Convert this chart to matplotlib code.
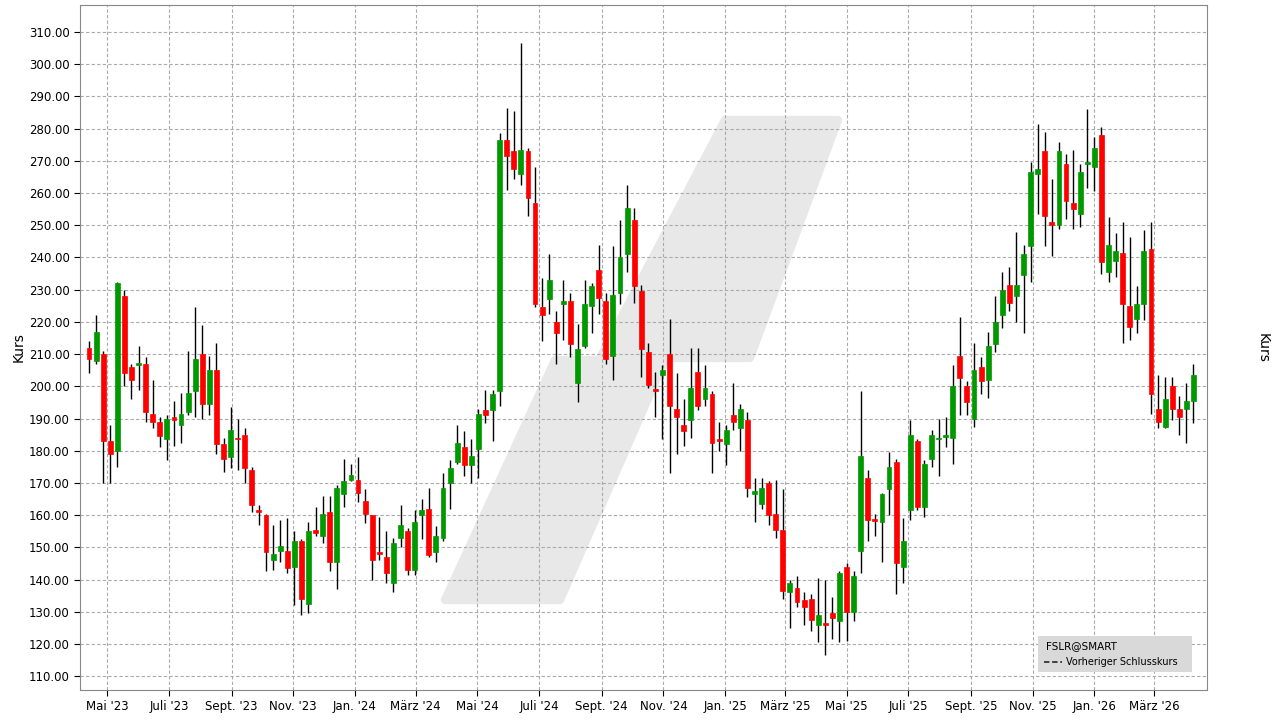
import datetime as dt
import matplotlib
matplotlib.use("Agg")
import matplotlib.pyplot as plt
import matplotlib.dates as mdates
from matplotlib.patches import Polygon, Rectangle
from matplotlib.ticker import FormatStrFormatter, MultipleLocator

# weekly candles, FSLR
opens = [212, 208, 210, 183, 180, 228, 206, 206.5, 207, 191.5, 189, 183.5, 190.5, 188, 192, 198.5, 210, 194.5, 205, 182,
         178, 184, 185, 174, 161.5, 160,
         146, 149, 149, 144, 152, 132.5, 155.5, 153.5, 161, 145.5, 166.5, 171, 171, 164.5, 160, 148.5, 147, 139, 153, 155,
         143, 160, 162, 148.5, 153, 170, 176.5, 181,
         175.5, 180.5, 192.5, 192.5, 198.5, 276.5, 273, 266, 273, 257, 224.5, 227, 220, 225.5, 226.5, 201, 212.5, 225,
         236, 226.5, 209.5, 229, 241, 251.5, 229.5, 210.5,
         199, 203.5, 210, 193, 188, 189.5, 204.5, 196, 197.5, 183.5, 182, 191, 187, 189.5, 166.5, 163.5, 170, 160.5,
         155.5, 136, 137.5, 133.5, 134, 126, 126.5, 129.5, 127,
         144, 130, 149, 171.5, 158.7, 158, 168, 176.5, 144, 161.5, 183, 162.5, 177.5, 183.5, 184.3, 184, 209.5, 200,
         190, 206, 202, 213, 222, 231.5, 228, 234.5,
         243.5, 266, 273, 251, 250, 269, 257, 253.5, 269, 268, 278, 235.5, 239, 241.5, 225, 221, 225.5, 242.5, 193,
         187.5, 200, 193, 193, 195.5]
highs = [214, 222, 211, 188, 232.5, 230, 207, 212.5, 209, 202, 190.5, 191, 195.5, 198, 211, 224.5, 219, 209.5, 213.5, 184,
         193.5, 190, 187, 175, 163, 160.5,
         157, 158.5, 159, 155, 152.5, 158, 162.5, 166, 166, 169.5, 177.5, 176, 178, 168, 160, 159.5, 155, 153, 163, 156,
         161.5, 165, 168.5, 156.5, 173, 177, 188, 186,
         183.5, 193, 199, 199, 278.5, 286.5, 285.5, 306.5, 274, 268, 233.5, 241, 223.5, 233, 229, 219.5, 233, 232,
         244, 229, 243.5, 251.5, 262.5, 255.5, 231.5, 213.5,
         204.5, 206.5, 221, 204, 196, 212, 212, 206.5, 198.5, 189, 188, 201, 194.5, 192, 171.5, 171.5, 170.5, 171,
         168, 140, 141, 136, 135.5, 140.5, 140, 134.5, 142.5,
         145, 142.5, 198.5, 174, 160.5, 167, 179.5, 177.5, 159, 189.5, 183.5, 177, 186.5, 190, 190.5, 206.5, 221.5, 201.5,
         213.5, 209, 217, 228, 235.5, 237, 248, 244,
         269.5, 281.5, 279, 264.5, 276, 272, 273.5, 269, 286, 277.5, 280.5, 252.5, 247.5, 251, 246.5, 231, 248.5, 251,
         203.5, 203, 203, 197, 201, 207]
lows = [204, 207, 170, 170, 175, 200, 196, 199, 189, 187, 181, 177, 181.5, 182.5, 191, 190.5, 190, 191, 179, 173.5,
        174.5, 174, 170, 161, 157, 142.5,
        143, 145.5, 142, 132, 129, 129.5, 153.5, 151.5, 142.5, 137, 162.5, 170.5, 164, 157.5, 140, 146, 139, 136, 150,
        141.5, 141.5, 152.5, 147, 145.5, 152, 162, 176, 172,
        170, 171.5, 188.5, 183, 194, 261, 264.5, 262.5, 253, 224.5, 214, 222.5, 207, 214.5, 209, 195, 212, 216.5,
        222.5, 207, 202, 225.5, 235.5, 226, 203, 199.5,
        190.5, 183.5, 173, 179, 181.5, 184, 192.5, 194, 173, 180, 175.5, 186.5, 180, 165.5, 158, 162, 157, 153,
        134, 125, 131.5, 126, 124, 120.5, 116.5, 121.5, 120.5,
        121, 127, 142, 152, 153.5, 145.5, 160, 135.5, 139, 158.5, 161.5, 159.5, 175, 172, 181, 176, 191, 191,
        187.5, 197.5, 196.5, 210.5, 218, 223.5, 220, 216.5,
        232.5, 253.5, 243.5, 240.5, 249, 252, 249, 249.5, 261.5, 260.5, 235, 232.5, 234, 213.5, 214.5, 216.5, 220.5,
        191.5, 187, 187, 189.5, 185, 182.5, 188.5]
closes = [208.5, 217, 183, 179, 232, 204, 202, 207, 192, 189, 184.5, 190, 189.5, 191.5, 198, 208.5, 194.5, 205, 182,
          177.5, 186.5, 183.5, 174.5, 163, 161, 148.5,
          148, 150.5, 143.5, 152, 134, 155, 154.5, 160.5, 145.5, 168.5, 170.5, 172.5, 167, 160.5, 146, 148, 142, 151.5,
          157, 143, 158, 161.5, 147.5, 153.5, 168.5, 174.5, 182.5, 175.5,
          178.5, 191.5, 191, 197.5, 276.5, 271.5, 267.5, 273.5, 258.5, 225.5, 222, 233, 216.5, 226.5, 213, 211.5,
          225.5, 231, 227.5, 208.5, 228.5, 240, 255.5, 231, 211.5, 200.5,
          198.5, 205, 194, 190.5, 186, 199.5, 194, 199.5, 182.5, 183, 186.5, 189, 193, 168.5, 167.5, 168.5, 160,
          155.5, 136.5, 139, 133, 131.5, 127.5, 129, 126, 128, 142,
          130, 141, 178.5, 158.5, 158.3, 166.5, 175, 145, 152, 185, 162.5, 176, 185, 184, 184.8, 200, 202.5, 195,
          205, 201.5, 212.5, 220, 230, 226, 231.5, 241,
          266.5, 267.5, 253, 250, 273, 257.5, 255, 266.5, 269.5, 274, 238.5, 244, 242, 225.5, 218.5, 225.5, 242,
          197.5, 189, 196, 193, 190.5, 195.5, 203.5]

start = dt.date(2023, 4, 13)
dates = [mdates.date2num(start + dt.timedelta(weeks=i)) for i in range(len(opens))]

W, H = 1280, 720
fig = plt.figure(figsize=(12.8, 7.2), dpi=100)
ax = fig.add_axes([80 / W, 30 / H, 1127 / W, 685 / H])


def px(x, y):
    return (x / W, 1 - y / H)


# watermark, behind grid and candles
for poly in ([(445, 600), (560, 600), (665, 360), (555, 360)],
             [(600, 358), (750, 358), (838, 120), (725, 120)]):
    ax.add_patch(Polygon([px(*p) for p in poly], closed=True, transform=fig.transFigure,
                         facecolor="#e8e8e8", edgecolor="#e8e8e8", lw=6, joinstyle="round", zorder=0.2))

green, red = "#009900", "#ff0000"
bw = 4.8
for d, o, h, l, c in zip(dates, opens, highs, lows, closes):
    col = green if c >= o else red
    ax.vlines(d, l, h, color="black", lw=1, zorder=2)
    lo, hi = min(o, c), max(o, c)
    ax.add_patch(Rectangle((d - bw / 2, lo), bw, max(hi - lo, 0.6), facecolor=col, edgecolor=col, lw=0.5, zorder=3))

ax.set_ylim(105.7, 318.4)
x0 = dates[0] - (89 - 80) / 7.08 * 7
ax.set_xlim(x0, x0 + 1127 / 7.08 * 7)
ax.yaxis.set_major_locator(MultipleLocator(10))
ax.yaxis.set_major_formatter(FormatStrFormatter("%.2f"))
ax.tick_params(axis="y", which="both", left=True, right=True, labelleft=True, labelright=True, labelsize=8.5, length=4)

months = {1: "Jan.", 3: "März", 5: "Mai", 7: "Juli", 9: "Sept.", 11: "Nov."}
ticks, labels = [], []
for yr in (2023, 2024, 2025, 2026):
    for m in (1, 3, 5, 7, 9, 11):
        t = mdates.date2num(dt.date(yr, m, 1))
        if ax.get_xlim()[0] < t < ax.get_xlim()[1]:
            ticks.append(t)
            labels.append(f"{months[m]} '{yr % 100}")
ax.set_xticks(ticks, labels, fontsize=8.5)
ax.tick_params(axis="x", length=4)

ax.grid(True, color="#aaaaaa", linestyle=(0, (3, 2)), lw=0.8, zorder=1)
ax.set_axisbelow(True)
for s in ax.spines.values():
    s.set_color("#888888")

ax.set_ylabel("Kurs", fontsize=10)
ax.yaxis.set_label_coords(-54 / 1127, 0.5)
ax2 = ax.twinx()
ax2.set_ylim(ax.get_ylim())
ax2.set_yticks([])
ax2.set_ylabel("Kurs", rotation=-90, fontsize=10, va="center")
ax2.yaxis.set_label_coords(1 + 56 / 1127, 0.5)
for s in ax2.spines.values():
    s.set_visible(False)

# legend box
fig.patches.append(Rectangle(px(1038, 672), 154 / W, 36 / H, transform=fig.transFigure,
                             facecolor="#d9d9d9", edgecolor="none", zorder=5))
fig.text(*px(1046, 646), "FSLR@SMART", fontsize=7.5, va="center", zorder=6)
fig.lines.append(plt.Line2D([1044 / W, 1062 / W], [1 - 662 / H] * 2, transform=fig.transFigure,
                            color="#333333", lw=1.3, ls=(0, (3, 1.5)), zorder=6))
fig.text(*px(1066, 662), "Vorheriger Schlusskurs", fontsize=7, va="center", zorder=6)

fig.savefig("out.png", dpi=100)
